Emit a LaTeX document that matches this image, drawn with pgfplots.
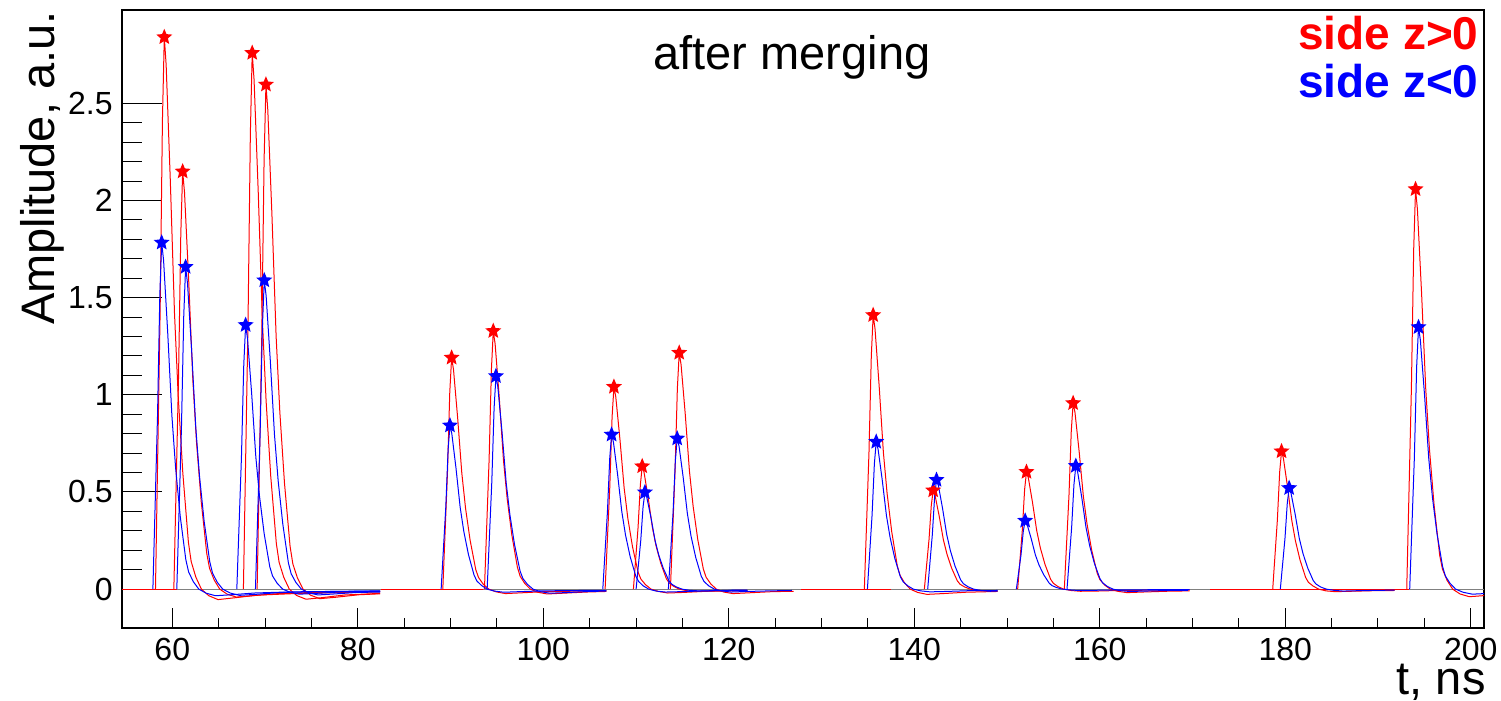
\documentclass[border=0pt]{standalone}
\usepackage{pgfplots}
\pgfplotsset{compat=1.18}
\usepackage{fontspec}
\setmainfont{Liberation Sans}

\pgfdeclareplotmark{fstar}{%
  \pgfpathmoveto{\pgfpointpolar{90}{\pgfplotmarksize}}%
  \pgfpathlineto{\pgfpointpolar{126}{0.45\pgfplotmarksize}}%
  \pgfpathlineto{\pgfpointpolar{162}{\pgfplotmarksize}}%
  \pgfpathlineto{\pgfpointpolar{198}{0.45\pgfplotmarksize}}%
  \pgfpathlineto{\pgfpointpolar{234}{\pgfplotmarksize}}%
  \pgfpathlineto{\pgfpointpolar{270}{0.45\pgfplotmarksize}}%
  \pgfpathlineto{\pgfpointpolar{306}{\pgfplotmarksize}}%
  \pgfpathlineto{\pgfpointpolar{342}{0.45\pgfplotmarksize}}%
  \pgfpathlineto{\pgfpointpolar{18}{\pgfplotmarksize}}%
  \pgfpathlineto{\pgfpointpolar{54}{0.45\pgfplotmarksize}}%
  \pgfpathclose
  \pgfusepathqfill}

\begin{document}
\begin{tikzpicture}
\path[use as bounding box] (-61pt,-36.5pt) rectangle (689.5pt,314pt);
\begin{axis}[
  at={(0,0)}, anchor=south west,
  scale only axis, width=681pt, height=309pt,
  xmin=54.58, xmax=201.43, ymin=-0.2, ymax=2.98,
  xtick={60,80,...,200}, minor x tick num=3,
  ytick={0,0.5,1,1.5,2,2.5}, minor y tick num=4,
  tick pos=left,
  axis line style={black, line width=0.6pt},
  xtick style={black, line width=0.5pt, /pgfplots/major tick length=10pt, /pgfplots/minor tick length=5pt},
  ytick style={black, line width=0.5pt, /pgfplots/major tick length=20pt, /pgfplots/minor tick length=10pt},
  tick label style={font=\fontsize{16}{19}\selectfont},
  /pgf/number format/assume math mode=true,
  xticklabel style={inner sep=0pt, anchor=north, yshift=-5pt},
  yticklabel style={inner sep=0pt, anchor=east, xshift=-4.5pt},
  tr/.style={red, line width=0.5pt, mark=none},
  tb/.style={blue, line width=0.5pt, mark=none},
]
% baseline
\addplot[tr] coordinates {(54.58,0) (201.43,0)};
\addplot[gray, line width=0.6pt] coordinates {(60.5,0) (82.5,0)};
\addplot[gray, line width=0.6pt] coordinates {(93.5,0) (127.8,0)};
\addplot[gray, line width=0.6pt] coordinates {(137.5,0) (171.9,0)};
\addplot[gray, line width=0.6pt] coordinates {(193.3,0) (201.43,0)};

% ---- red traces (side z>0)
\addplot[tr] coordinates {(58.19,0) (58.69,1.42) (58.94,2.414) (59.14,2.84) (59.34,2.698) (59.79,2.102) (60.24,1.42) (60.64,0.994) (61.14,0.596) (61.74,0.241) (62.04,0.142) (62.54,0.062) (63.14,0) (63.94,-0.034) (64.94,-0.054) (66.64,-0.045) (69.14,-0.031) (73.14,-0.023) (79.14,-0.017) (82.4,-0.014)};
\addplot[tr] coordinates {(60.17,0) (60.67,1.075) (60.92,1.827) (61.12,2.149) (61.32,2.042) (61.77,1.590) (62.22,1.075) (62.62,0.752) (63.12,0.451) (63.72,0.183) (64.02,0.107) (64.52,0.047) (65.12,0) (65.92,-0.026) (66.92,-0.041) (68.62,-0.034) (71.12,-0.024) (75.12,-0.017) (81.12,-0.013) (82.4,-0.012)};
\addplot[tr] coordinates {(67.67,0) (68.17,1.380) (68.42,2.345) (68.62,2.759) (68.82,2.621) (69.27,2.042) (69.72,1.380) (70.12,0.966) (70.62,0.579) (71.22,0.235) (71.52,0.138) (72.02,0.061) (72.62,0) (73.42,-0.033) (74.42,-0.052) (76.12,-0.044) (78.62,-0.030) (82.4,-0.022)};
\addplot[tr] coordinates {(69.15,0) (69.65,1.298) (69.90,2.207) (70.10,2.596) (70.30,2.466) (70.75,1.921) (71.20,1.298) (71.60,0.909) (72.10,0.545) (72.70,0.221) (73.00,0.130) (73.50,0.057) (74.10,0) (74.90,-0.031) (75.90,-0.049) (77.60,-0.042) (80.10,-0.029) (82.4,-0.024)};
\addplot[tr] coordinates {(89.17,0) (89.67,0.596) (89.92,1.012) (90.12,1.191) (90.32,1.131) (90.77,0.881) (91.22,0.596) (91.62,0.417) (92.12,0.250) (92.72,0.101) (93.02,0.060) (93.52,0.026) (94.12,0) (94.92,-0.014) (95.92,-0.023) (97.62,-0.019) (100.12,-0.013) (104.12,-0.010) (106.8,-0.008)};
\addplot[tr] coordinates {(93.66,0) (94.16,0.664) (94.41,1.129) (94.61,1.328) (94.81,1.262) (95.26,0.983) (95.71,0.664) (96.11,0.465) (96.61,0.279) (97.21,0.113) (97.51,0.066) (98.01,0.029) (98.61,0) (99.41,-0.016) (100.41,-0.025) (102.11,-0.021) (104.61,-0.015) (106.8,-0.012)};
\addplot[tr] coordinates {(106.67,0) (107.17,0.521) (107.42,0.885) (107.62,1.041) (107.82,0.989) (108.27,0.770) (108.72,0.521) (109.12,0.364) (109.62,0.219) (110.22,0.088) (110.52,0.052) (111.02,0.023) (111.62,0) (112.42,-0.012) (113.42,-0.020) (115.12,-0.017) (117.62,-0.011) (121.62,-0.008) (122.0,-0.008)};
\addplot[tr] coordinates {(109.72,0) (110.22,0.316) (110.47,0.537) (110.67,0.632) (110.87,0.600) (111.32,0.468) (111.77,0.316) (112.17,0.221) (112.67,0.133) (113.27,0.054) (113.57,0.032) (114.07,0.014) (114.67,0) (115.47,-0.008) (116.47,-0.012) (118.17,-0.010) (120.67,-0.007) (122.0,-0.006)};
\addplot[tr] coordinates {(113.71,0) (114.21,0.608) (114.46,1.034) (114.66,1.216) (114.86,1.155) (115.31,0.900) (115.76,0.608) (116.16,0.426) (116.66,0.255) (117.26,0.103) (117.56,0.061) (118.06,0.027) (118.66,0) (119.46,-0.015) (120.46,-0.023) (122.16,-0.019) (124.66,-0.013) (127.0,-0.011)};
\addplot[tr] coordinates {(134.62,0) (135.12,0.705) (135.37,1.199) (135.57,1.410) (135.77,1.340) (136.22,1.043) (136.67,0.705) (137.07,0.494) (137.57,0.296) (138.17,0.120) (138.47,0.071) (138.97,0.031) (139.57,0) (140.37,-0.017) (141.37,-0.027) (143.07,-0.023) (145.57,-0.016) (149.0,-0.012)};
\addplot[tr] coordinates {(141.09,0) (141.59,0.254) (141.84,0.432) (142.04,0.508) (142.24,0.483) (142.69,0.376) (143.14,0.254) (143.54,0.178) (144.04,0.107) (144.64,0.043) (144.94,0.025) (145.44,0.011) (146.04,0) (146.84,-0.006) (147.84,-0.010) (149.0,-0.009)};
\addplot[tr] coordinates {(151.15,0) (151.65,0.302) (151.90,0.513) (152.10,0.603) (152.30,0.573) (152.75,0.446) (153.20,0.302) (153.60,0.211) (154.10,0.127) (154.70,0.051) (155.00,0.030) (155.50,0.013) (156.10,0) (156.90,-0.007) (157.90,-0.011) (159.60,-0.010) (162.10,-0.007) (166.10,-0.005) (169.7,-0.004)};
\addplot[tr] coordinates {(156.18,0) (156.68,0.479) (156.93,0.813) (157.13,0.957) (157.33,0.909) (157.78,0.708) (158.23,0.479) (158.63,0.335) (159.13,0.201) (159.73,0.081) (160.03,0.048) (160.53,0.021) (161.13,0) (161.93,-0.011) (162.93,-0.018) (164.63,-0.015) (167.13,-0.011) (169.7,-0.009)};
\addplot[tr] coordinates {(178.65,0) (179.15,0.355) (179.40,0.603) (179.60,0.709) (179.80,0.674) (180.25,0.525) (180.70,0.355) (181.10,0.248) (181.60,0.149) (182.20,0.060) (182.50,0.035) (183.00,0.016) (183.60,0) (184.40,-0.009) (185.40,-0.013) (187.10,-0.011) (189.60,-0.008) (191.8,-0.007)};
\addplot[tr] coordinates {(193.10,0) (193.60,1.029) (193.85,1.749) (194.05,2.058) (194.25,1.955) (194.70,1.523) (195.15,1.029) (195.55,0.720) (196.05,0.432) (196.65,0.175) (196.95,0.103) (197.45,0.045) (198.05,0) (198.85,-0.025) (199.85,-0.039) (201.55,-0.033) (204.05,-0.023)};

% ---- blue traces (side z<0)
\addplot[tb] coordinates {(57.91,0) (58.41,0.892) (58.66,1.516) (58.86,1.783) (59.06,1.694) (59.51,1.319) (59.96,0.892) (60.36,0.624) (60.86,0.374) (61.46,0.152) (61.76,0.089) (62.26,0.039) (62.86,0) (63.66,-0.021) (64.66,-0.034) (66.36,-0.029) (68.86,-0.020) (72.86,-0.014) (78.86,-0.011) (82.4,-0.009)};
\addplot[tb] coordinates {(60.49,0) (60.99,0.829) (61.24,1.409) (61.44,1.658) (61.64,1.575) (62.09,1.227) (62.54,0.829) (62.94,0.580) (63.44,0.348) (64.04,0.141) (64.34,0.083) (64.84,0.036) (65.44,0) (66.24,-0.020) (67.24,-0.032) (68.94,-0.027) (71.44,-0.018) (75.44,-0.013) (81.44,-0.010) (82.4,-0.010)};
\addplot[tb] coordinates {(66.96,0) (67.46,0.680) (67.71,1.155) (67.91,1.359) (68.11,1.291) (68.56,1.006) (69.01,0.680) (69.41,0.476) (69.91,0.285) (70.51,0.116) (70.81,0.068) (71.31,0.030) (71.91,0) (72.71,-0.016) (73.71,-0.026) (75.41,-0.022) (77.91,-0.015) (81.91,-0.011) (82.4,-0.011)};
\addplot[tb] coordinates {(68.97,0) (69.47,0.795) (69.72,1.351) (69.92,1.589) (70.12,1.510) (70.57,1.176) (71.02,0.795) (71.42,0.556) (71.92,0.334) (72.52,0.135) (72.82,0.079) (73.32,0.035) (73.92,0) (74.72,-0.019) (75.72,-0.030) (77.42,-0.025) (79.92,-0.017) (82.4,-0.015)};
\addplot[tb] coordinates {(88.99,0) (89.49,0.421) (89.74,0.716) (89.94,0.842) (90.14,0.800) (90.59,0.623) (91.04,0.421) (91.44,0.295) (91.94,0.177) (92.54,0.072) (92.84,0.042) (93.34,0.019) (93.94,0) (94.74,-0.010) (95.74,-0.016) (97.44,-0.013) (99.94,-0.009) (103.94,-0.007) (106.8,-0.006)};
\addplot[tb] coordinates {(93.95,0) (94.45,0.548) (94.70,0.932) (94.90,1.096) (95.10,1.041) (95.55,0.811) (96.00,0.548) (96.40,0.384) (96.90,0.230) (97.50,0.093) (97.80,0.055) (98.30,0.024) (98.90,0) (99.70,-0.013) (100.70,-0.021) (102.40,-0.018) (104.90,-0.012) (106.8,-0.010)};
\addplot[tb] coordinates {(106.42,0) (106.92,0.398) (107.17,0.676) (107.37,0.795) (107.57,0.755) (108.02,0.588) (108.47,0.398) (108.87,0.278) (109.37,0.167) (109.97,0.068) (110.27,0.040) (110.77,0.017) (111.37,0) (112.17,-0.010) (113.17,-0.015) (114.87,-0.013) (117.37,-0.009) (121.37,-0.006) (122.0,-0.006)};
\addplot[tb] coordinates {(110.01,0) (110.51,0.249) (110.76,0.423) (110.96,0.498) (111.16,0.473) (111.61,0.369) (112.06,0.249) (112.46,0.174) (112.96,0.105) (113.56,0.042) (113.86,0.025) (114.36,0.011) (114.96,0) (115.76,-0.006) (116.76,-0.009) (118.46,-0.008) (120.96,-0.005) (122.0,-0.005)};
\addplot[tb] coordinates {(113.49,0) (113.99,0.388) (114.24,0.659) (114.44,0.775) (114.64,0.736) (115.09,0.574) (115.54,0.388) (115.94,0.271) (116.44,0.163) (117.04,0.066) (117.34,0.039) (117.84,0.017) (118.44,0) (119.24,-0.009) (120.24,-0.015) (121.94,-0.012) (124.44,-0.009) (126.8,-0.007)};
\addplot[tb] coordinates {(134.95,0) (135.45,0.379) (135.70,0.644) (135.90,0.758) (136.10,0.720) (136.55,0.561) (137.00,0.379) (137.40,0.265) (137.90,0.159) (138.50,0.064) (138.80,0.038) (139.30,0.017) (139.90,0) (140.70,-0.009) (141.70,-0.014) (143.40,-0.012) (145.90,-0.008) (149.0,-0.007)};
\addplot[tb] coordinates {(141.45,0) (141.95,0.281) (142.20,0.478) (142.40,0.562) (142.60,0.534) (143.05,0.416) (143.50,0.281) (143.90,0.197) (144.40,0.118) (145.00,0.048) (145.30,0.028) (145.80,0.012) (146.40,0) (147.20,-0.007) (148.20,-0.011) (149.0,-0.010)};
\addplot[tb] coordinates {(151.01,0) (151.51,0.176) (151.76,0.299) (151.96,0.352) (152.16,0.334) (152.61,0.260) (153.06,0.176) (153.46,0.123) (153.96,0.074) (154.56,0.030) (154.86,0.018) (155.36,0.008) (155.96,0) (156.76,-0.004) (157.76,-0.007) (159.46,-0.006) (161.96,-0.004) (165.96,-0.003) (169.7,-0.002)};
\addplot[tb] coordinates {(156.47,0) (156.97,0.317) (157.22,0.539) (157.42,0.634) (157.62,0.602) (158.07,0.469) (158.52,0.317) (158.92,0.222) (159.42,0.133) (160.02,0.054) (160.32,0.032) (160.82,0.014) (161.42,0) (162.22,-0.008) (163.22,-0.012) (164.92,-0.010) (167.42,-0.007) (169.5,-0.006)};
\addplot[tb] coordinates {(179.47,0) (179.97,0.260) (180.22,0.442) (180.42,0.520) (180.62,0.494) (181.07,0.385) (181.52,0.260) (181.92,0.182) (182.42,0.109) (183.02,0.044) (183.32,0.026) (183.82,0.011) (184.42,0) (185.22,-0.006) (186.22,-0.010) (187.92,-0.008) (190.42,-0.006) (191.8,-0.005)};
\addplot[tb] coordinates {(193.42,0) (193.92,0.674) (194.17,1.146) (194.37,1.348) (194.57,1.281) (195.02,0.998) (195.47,0.674) (195.87,0.472) (196.37,0.283) (196.97,0.115) (197.27,0.067) (197.77,0.030) (198.37,0) (199.17,-0.016) (200.17,-0.026) (201.87,-0.022) (204.37,-0.015)};

% ---- peak markers
\addplot[only marks, mark=fstar, mark size=4.2pt, red] coordinates {
 (59.14,2.840) (61.12,2.149) (68.62,2.759) (70.10,2.596) (90.12,1.191) (94.61,1.328)
 (107.62,1.041) (110.67,0.632) (114.66,1.216) (135.57,1.410) (142.04,0.508) (152.10,0.603)
 (157.13,0.957) (179.60,0.709) (194.05,2.058)};
\addplot[only marks, mark=fstar, mark size=4.2pt, blue] coordinates {
 (58.86,1.783) (61.44,1.658) (67.91,1.359) (69.92,1.589) (89.94,0.842) (94.90,1.096)
 (107.37,0.795) (110.96,0.498) (114.44,0.775) (135.90,0.758) (142.40,0.562) (151.96,0.352)
 (157.42,0.634) (180.42,0.520) (194.37,1.348)};
\end{axis}

% texts
\node[anchor=base, inner sep=0pt, font=\fontsize{23.5}{28}\selectfont] at (335pt,279pt) {after merging};
\node[anchor=base east, inner sep=0pt, red, font=\fontsize{23}{27}\selectfont\bfseries] at (678.5pt,289pt) {side z>0};
\node[anchor=base east, inner sep=0pt, blue, font=\fontsize{23}{27}\selectfont\bfseries] at (678.5pt,265.3pt) {side z<0};
\node[anchor=base east, inner sep=0pt, font=\fontsize{23.5}{28}\selectfont] at (682pt,-33.5pt) {t, ns};
\node[anchor=base east, inner sep=0pt, rotate=90, font=\fontsize{23.5}{28}\selectfont] at (-33.5pt,308.5pt) {Amplitude, a.u.};
\end{tikzpicture}
\end{document}
